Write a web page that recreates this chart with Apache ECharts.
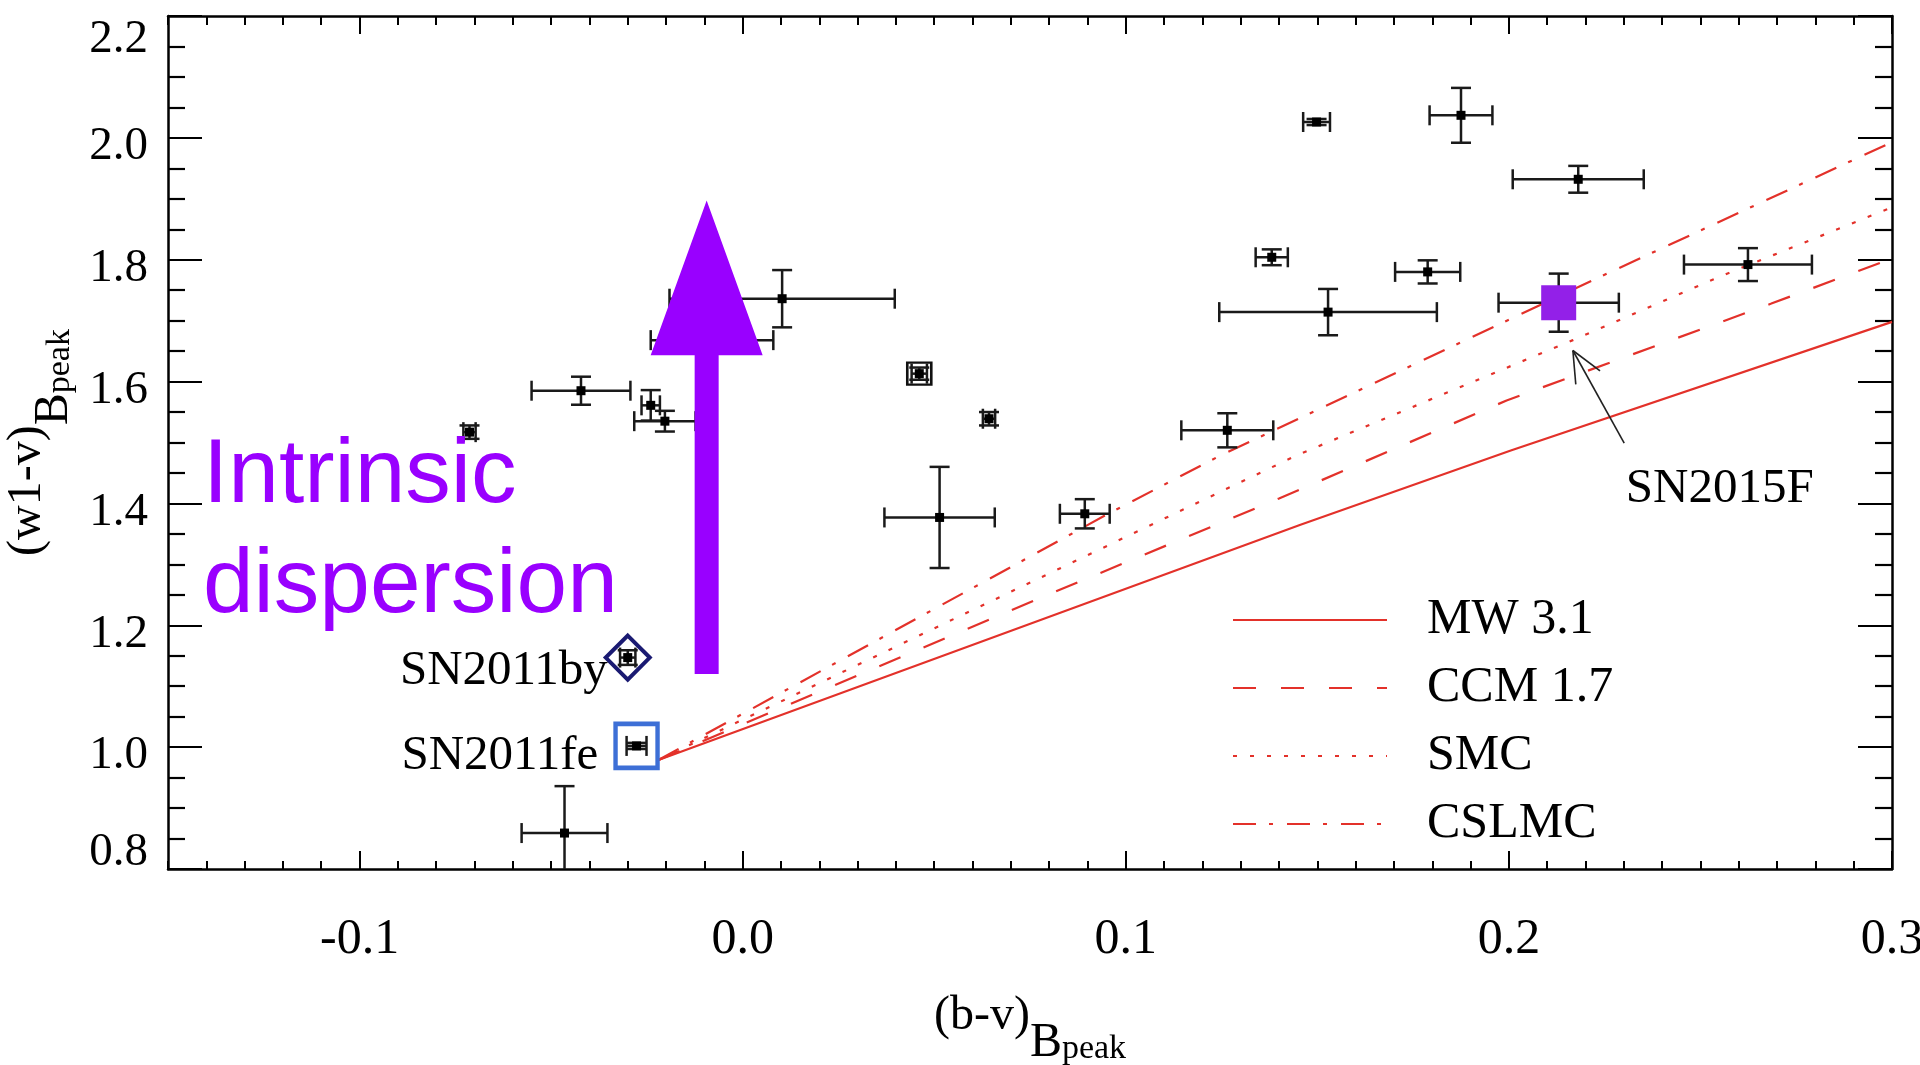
<!DOCTYPE html>
<html>
<head>
<meta charset="utf-8">
<script src="https://cdn.jsdelivr.net/npm/echarts@6/dist/echarts.min.js"></script>
<style>
  html, body { margin: 0; padding: 0; background: #fff; }
  #chart { width: 1920px; height: 1065px; }
</style>
</head>
<body>
<div id="chart"></div>
<script>
// colours at B-band peak: (b-v) on x, (w1-v) on y
const sampleBV     = [-0.0713, -0.0422, -0.0240, -0.0203, -0.0080, 0.0103, 0.0461, 0.0643, 0.0514, 0.0893, 0.1265, 0.1381, 0.1498, 0.1528, 0.1788, 0.1875, 0.2181, 0.2624, -0.0465]
const sampleBVErr  = [0.0016, 0.0129, 0.0024, 0.0080, 0.0160, 0.0294, 0.0020, 0.0016, 0.0144, 0.0065, 0.0120, 0.0042, 0.0035, 0.0284, 0.0085, 0.0082, 0.0171, 0.0167, 0.0112]
const sampleW1V    = [1.517, 1.585, 1.561, 1.535, 1.668, 1.736, 1.613, 1.539, 1.377, 1.383, 1.520, 1.804, 2.026, 1.714, 1.780, 2.037, 1.932, 1.792, 0.859]
const sampleW1VErr = [0.011, 0.023, 0.025, 0.017, 0.020, 0.047, 0.010, 0.011, 0.083, 0.024, 0.028, 0.013, 0.005, 0.038, 0.019, 0.045, 0.022, 0.027, 0.077]
const boxedSamples = [6]

// named supernovae
const snNames  = ['SN2011by', 'SN2011fe', 'SN2015F']
const snBV     = [-0.0300, -0.0277, 0.2130]
const snBVErr  = [0.0020, 0.0026, 0.0157]
const snW1V    = [1.147, 1.002, 1.7295]
const snW1VErr = [0.012, 0.005, 0.0477]

// reddening curves
const mwBV    = [-0.022, 0.1456, 0.2005, 0.300]
const mwW1V   = [0.979, 1.365, 1.487, 1.698]
const ccmBV   = [-0.022, 0.0764, 0.1400, 0.1994, 0.2685, 0.300]
const ccmW1V  = [0.979, 1.2415, 1.408, 1.569, 1.728, 1.802]
const smcBV   = [-0.022, 0.145, 0.2167, 0.2557, 0.300]
const smcW1V  = [0.979, 1.480, 1.668, 1.774, 1.886]
const cslBV   = [-0.022, 0.0957, 0.1248, 0.2228, 0.300]
const cslW1V  = [0.979, 1.384, 1.479, 1.769, 1.993]

// "intrinsic dispersion" arrow: x, tail y, head base y, tip y
const dispersionArrow = [-0.0094, 1.12, 1.643, 1.897]
// pointer to SN2015F: tip x, tip y, tail x, tail y
const sn2015fPointer = [0.2167, 1.651, 0.2301, 1.499]

const xTicks = [-0.1, 0.0, 0.1, 0.2, 0.3]
const xMin = -0.15, xMax = 0.3
const yMin = 0.8, yMax = 2.2

const serif = 'Liberation Serif'
const red = '#e3312a'
const purple = '#9900ff'

const chart = echarts.init(document.getElementById('chart'))

function zip(xs, ys) {
  return xs.map((x, i) => [x, ys[i]])
}

// 误差棒
function renderErrorBar(params, api) {
  const x = api.value(0), y = api.value(1), ex = api.value(2), ey = api.value(3)
  const c = api.coord([x, y])
  const l = api.coord([x - ex, y])
  const r = api.coord([x + ex, y])
  const t = api.coord([x, y + ey])
  const b = api.coord([x, y - ey])
  const cap = 10
  const style = { stroke: '#1a1a1a', lineWidth: 2.5 }
  const seg = (x1, y1, x2, y2) => ({ type: 'line', shape: { x1, y1, x2, y2 }, style })
  return {
    type: 'group',
    children: [
      seg(l[0], l[1], r[0], r[1]),
      seg(l[0], l[1] - cap, l[0], l[1] + cap),
      seg(r[0], r[1] - cap, r[0], r[1] + cap),
      seg(t[0], t[1], b[0], b[1]),
      seg(t[0] - cap, t[1], t[0] + cap, t[1]),
      seg(b[0] - cap, b[1], b[0] + cap, b[1]),
      { type: 'rect', shape: { x: c[0] - 4.5, y: c[1] - 4.5, width: 9, height: 9 }, style: { fill: '#000' } }
    ]
  }
}

function renderArrow(params, api) {
  const x = api.value(0)
  const tail = api.coord([x, api.value(1)])
  const base = api.coord([x, api.value(2)])
  const tip = api.coord([x, api.value(3)])
  const shaft = 12, head = 56
  return {
    type: 'polygon',
    shape: {
      points: [
        [tail[0] - shaft, tail[1]], [tail[0] + shaft, tail[1]],
        [base[0] + shaft, base[1]], [base[0] + head, base[1]],
        [tip[0], tip[1]],
        [base[0] - head, base[1]], [base[0] - shaft, base[1]]
      ]
    },
    style: { fill: purple }
  }
}

function renderPointer(params, api) {
  const tip = api.coord([api.value(0), api.value(1)])
  const tail = api.coord([api.value(2), api.value(3)])
  const ang = Math.atan2(tail[1] - tip[1], tail[0] - tip[0])
  const arm = 34, spread = 0.42
  const style = { stroke: '#222', lineWidth: 1.6 }
  const armEnd = s => [tip[0] + arm * Math.cos(ang + s), tip[1] + arm * Math.sin(ang + s)]
  const a1 = armEnd(spread), a2 = armEnd(-spread)
  return {
    type: 'group',
    children: [
      { type: 'line', shape: { x1: tip[0], y1: tip[1], x2: tail[0], y2: tail[1] }, style },
      { type: 'line', shape: { x1: tip[0], y1: tip[1], x2: a1[0], y2: a1[1] }, style },
      { type: 'line', shape: { x1: tip[0], y1: tip[1], x2: a2[0], y2: a2[1] }, style }
    ]
  }
}

const errorData = sampleBV.map((x, i) => [x, sampleW1V[i], sampleBVErr[i], sampleW1VErr[i]])
  .concat(snBV.map((x, i) => [x, snW1V[i], snBVErr[i], snW1VErr[i]]))

// 标注样式
const snStyle = {
  SN2011by: {
    symbol: 'diamond', symbolSize: [44, 44],
    itemStyle: { color: 'rgba(0,0,0,0)', borderColor: '#1a1a72', borderWidth: 4, opacity: 1 },
    label: { position: 'left', distance: -4, offset: [0, 14] }
  },
  SN2011fe: {
    symbol: 'rect', symbolSize: [42, 44],
    itemStyle: { color: 'rgba(0,0,0,0)', borderColor: '#3d6fd6', borderWidth: 4.5, opacity: 1 },
    label: { position: 'left', distance: 15, offset: [0, 10] }
  },
  SN2015F: {
    symbol: 'rect', symbolSize: [35, 35],
    itemStyle: { color: '#9320e8', opacity: 1 },
    label: { position: 'inside', offset: [161, 186] }
  }
}

const snData = snNames.map((name, i) => {
  const s = snStyle[name]
  return {
    name,
    value: [snBV[i], snW1V[i]],
    symbol: s.symbol,
    symbolSize: s.symbolSize,
    itemStyle: s.itemStyle,
    label: Object.assign({ show: true, formatter: name, fontFamily: serif, fontSize: 49, color: '#000', opacity: 1 }, s.label)
  }
})

function curve(name, xs, ys, type) {
  return {
    name, type: 'line', data: zip(xs, ys), symbol: 'none', showSymbol: false,
    lineStyle: { color: red, width: 2.2, type }, itemStyle: { color: red },
    z: 2, silent: true
  }
}

const frameLine = { show: true, onZero: false, lineStyle: { color: '#000', width: 2.5 } }

function yLabel(v) {
  const s = v.toFixed(1)
  if (Math.abs(v - yMax) < 1e-6) return '{hi|' + s + '}'
  if (Math.abs(v - yMin) < 1e-6) return '{lo|' + s + '}'
  return '{n|' + s + '}'
}

const yRich = {
  n: { fontFamily: serif, fontSize: 47, color: '#000', padding: [18, 0, 0, 0] },
  hi: { fontFamily: serif, fontSize: 47, color: '#000', padding: [48, 0, 0, 0] },
  lo: { fontFamily: serif, fontSize: 47, color: '#000', padding: [0, 0, 32, 0] }
}

const nameRich = {
  a: { fontFamily: serif, fontSize: 48, lineHeight: 48, color: '#000', verticalAlign: 'top' },
  b: { fontFamily: serif, fontSize: 48, lineHeight: 48, color: '#000', verticalAlign: 'top', padding: [27, 0, 0, 0] },
  c: { fontFamily: serif, fontSize: 34, lineHeight: 34, color: '#000', verticalAlign: 'top', padding: [40, 0, 0, 0] }
}

const option = {
  animation: false,
  backgroundColor: '#fff',
  grid: { left: 168, right: 28, top: 16, bottom: 196, outerBoundsMode: 'none' },
  legend: {
    data: ['MW 3.1', 'CCM 1.7', 'SMC', 'CSLMC'],
    orient: 'vertical',
    left: 1227, top: 590,
    itemWidth: 154, itemHeight: 14, itemGap: 18,
    selectedMode: false,
    itemStyle: { opacity: 0 },
    textStyle: { fontFamily: serif, fontSize: 50, lineHeight: 50, color: '#000', padding: [0, 0, 0, 35] }
  },
  xAxis: [
    {
      type: 'value', position: 'bottom', min: xMin, max: xMax,
      axisLine: frameLine,
      axisTick: { show: true, inside: true, length: 18, customValues: xTicks, lineStyle: { color: '#000', width: 2 } },
      axisLabel: {
        customValues: xTicks, margin: 46, fontFamily: serif, fontSize: 50, color: '#000',
        formatter: v => (Math.abs(v * 10 - Math.round(v * 10)) < 1e-6 ? v.toFixed(1) : '')
      },
      splitLine: { show: false },
      name: '{a|(b-v)}{b|B}{c|peak}', nameLocation: 'middle', nameGap: 123,
      nameTextStyle: { rich: nameRich }
    },
    {
      type: 'value', position: 'top', min: xMin, max: xMax,
      axisLine: frameLine,
      axisTick: { show: true, inside: true, length: 18, customValues: xTicks, lineStyle: { color: '#000', width: 2 } },
      axisLabel: { show: false }, splitLine: { show: false }
    },
    {
      type: 'value', position: 'bottom', min: xMin, max: xMax, interval: 0.01,
      axisLine: { show: false },
      axisTick: { show: true, inside: true, length: 8, lineStyle: { color: '#000', width: 2 } },
      axisLabel: { show: false }, splitLine: { show: false }
    },
    {
      type: 'value', position: 'top', min: xMin, max: xMax, interval: 0.01,
      axisLine: { show: false },
      axisTick: { show: true, inside: true, length: 9, lineStyle: { color: '#000', width: 2 } },
      axisLabel: { show: false }, splitLine: { show: false }
    }
  ],
  yAxis: [
    {
      type: 'value', position: 'left', min: yMin, max: yMax, interval: 0.2,
      axisLine: frameLine,
      axisTick: { show: true, inside: true, length: 34, lineStyle: { color: '#000', width: 2.2 } },
      minorTick: { show: true, splitNumber: 4, length: 17, lineStyle: { color: '#000', width: 2.2 } },
      axisLabel: { margin: 20, formatter: yLabel, rich: yRich },
      splitLine: { show: false }, minorSplitLine: { show: false },
      name: '{a|(w1-v)}{b|B}{c|peak}', nameLocation: 'middle', nameGap: 93, nameRotate: 90,
      nameTextStyle: { rich: nameRich }
    },
    {
      type: 'value', position: 'right', min: yMin, max: yMax, interval: 0.2,
      axisLine: frameLine,
      axisTick: { show: true, inside: true, length: 34, lineStyle: { color: '#000', width: 2.2 } },
      minorTick: { show: true, splitNumber: 4, length: 17, lineStyle: { color: '#000', width: 2.2 } },
      axisLabel: { show: false }, splitLine: { show: false }, minorSplitLine: { show: false }
    }
  ],
  series: [
    curve('MW 3.1', mwBV, mwW1V, 'solid'),
    curve('CCM 1.7', ccmBV, ccmW1V, [23, 25]),
    curve('SMC', smcBV, smcW1V, [4, 13]),
    curve('CSLMC', cslBV, cslW1V, [23, 13, 4, 14]),
    {
      type: 'custom', name: 'errors', renderItem: renderErrorBar, data: errorData,
      clip: true, z: 3, silent: true
    },
    {
      type: 'scatter', name: 'boxed', symbol: 'rect', symbolSize: [24, 22],
      data: boxedSamples.map(i => [sampleBV[i], sampleW1V[i]]),
      itemStyle: { color: 'rgba(0,0,0,0)', borderColor: '#111', borderWidth: 2.5, opacity: 1 },
      z: 4, silent: true
    },
    {
      type: 'scatter', name: 'named', data: snData, z: 4, silent: true
    },
    {
      type: 'custom', name: 'pointer', renderItem: renderPointer, data: [sn2015fPointer],
      z: 4, silent: true
    },
    {
      type: 'custom', name: 'dispersion', renderItem: renderArrow, data: [dispersionArrow],
      z: 5, silent: true
    }
  ],
  graphic: [
    {
      type: 'text', left: 203, top: 422, z: 10, silent: true,
      style: {
        text: 'Intrinsic\ndispersion', fill: purple,
        font: '91px "Liberation Sans"', lineHeight: 110
      }
    }
  ]
}

chart.setOption(option)
</script>
</body>
</html>
